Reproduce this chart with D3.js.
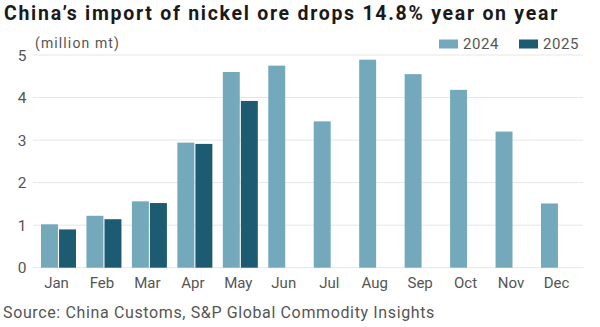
<!DOCTYPE html>
<html>
<head>
<meta charset="utf-8">
<script src="https://cdn.jsdelivr.net/npm/d3@7"></script>
<style>
  html, body { margin: 0; padding: 0; background: #fff; }
  svg { display: block; font-family: Roboto, "Noto Sans", sans-serif; }
</style>
</head>
<body>
<svg id="chart" width="600" height="327"></svg>
<script>
const months = ['Jan', 'Feb', 'Mar', 'Apr', 'May', 'Jun', 'Jul', 'Aug', 'Sep', 'Oct', 'Nov', 'Dec'];
const series = ['2024', '2025'];
const values2024 = [1.02, 1.22, 1.56, 2.94, 4.60, 4.75, 3.44, 4.89, 4.55, 4.18, 3.20, 1.51];
const values2025 = [0.90, 1.14, 1.52, 2.91, 3.92, null, null, null, null, null, null, null];
const yTicks = [0, 1, 2, 3, 4, 5];

const COLOR = { '2024': '#74a9bc', '2025': '#1d5b73' };

const svg = d3.select('#chart');

// stretch a text node to a target width via letter-spacing
function fitWidth(sel, target) {
  const w = sel.node().getComputedTextLength();
  const n = sel.text().length;
  sel.attr('letter-spacing', ((target - w) / n).toFixed(3));
}

const x = d3.scaleBand().domain(months).range([33, 584]).paddingInner(0.23).paddingOuter(0.176);
const xs = d3.scaleBand().domain(series).range([0, x.bandwidth()]).paddingInner(0.06);
const y = d3.scaleLinear().domain([0, 5]).range([267.7, 55]);

// Gridlines
svg.append('g')
  .selectAll('line')
  .data(yTicks)
  .join('line')
  .attr('x1', 33).attr('x2', 583)
  .attr('y1', d => y(d)).attr('y2', d => y(d))
  .attr('stroke', '#e6e6e6')
  .attr('stroke-width', 1);

// y labels
svg.append('g')
  .selectAll('text')
  .data(yTicks)
  .join('text')
  .text(d => d)
  .attr('x', 22)
  .attr('y', d => y(d) + 5.5)
  .attr('text-anchor', 'middle')
  .attr('font-size', 15.5)
  .attr('fill', '#555');

// Bars
const rows = months.map((m, i) => ({ m, v: { '2024': values2024[i], '2025': values2025[i] } }));
const grp = svg.append('g')
  .selectAll('g')
  .data(rows)
  .join('g')
  .attr('transform', d => `translate(${x(d.m)},0)`);

grp.selectAll('rect')
  .data(d => series.filter(s => d.v[s] != null).map(s => ({ s, v: d.v[s] })))
  .join('rect')
  .attr('x', d => xs(d.s))
  .attr('y', d => y(d.v))
  .attr('width', xs.bandwidth())
  .attr('height', d => y(0) - y(d.v))
  .attr('fill', d => COLOR[d.s]);

// x labels
svg.append('g')
  .selectAll('text')
  .data(months)
  .join('text')
  .text(d => d)
  .attr('x', d => x(d) + x.bandwidth() / 2 - 2)
  .attr('y', 288)
  .attr('text-anchor', 'middle')
  .attr('font-size', 15)
  .attr('fill', '#555');

// Title
const title = svg.append('text')
  .text('China\u2019s import of nickel ore drops 14.8% year on year')
  .attr('x', 4).attr('y', 20)
  .attr('font-size', 19.5)
  .attr('font-weight', 700)
  .attr('fill', '#1a1a1a');
fitWidth(title, 555);

// Unit label
const unit = svg.append('text')
  .text('(million mt)')
  .attr('x', 35).attr('y', 48)
  .attr('font-size', 14)
  .attr('fill', '#555');
fitWidth(unit, 85);

// Legend
const legend = [
  { s: '2024', rx: 439, tx: 463 },
  { s: '2025', rx: 519, tx: 543 }
];
legend.forEach(l => {
  svg.append('rect')
    .attr('x', l.rx).attr('y', 39.5)
    .attr('width', 19).attr('height', 9)
    .attr('fill', COLOR[l.s]);
  const t = svg.append('text')
    .text(l.s)
    .attr('x', l.tx).attr('y', 49)
    .attr('font-size', 15)
    .attr('fill', '#555');
  fitWidth(t, 36);
});

// Source
const src = svg.append('text')
  .text('Source: China Customs, S&P Global Commodity Insights')
  .attr('x', 3).attr('y', 318)
  .attr('font-size', 16)
  .attr('fill', '#555');
fitWidth(src, 432);
</script>
</body>
</html>
